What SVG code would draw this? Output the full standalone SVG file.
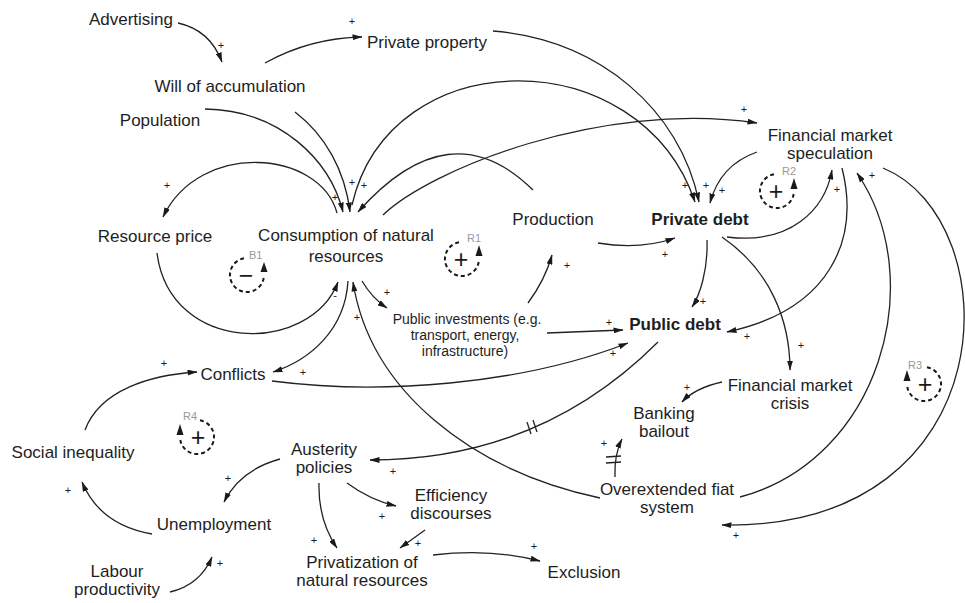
<svg xmlns="http://www.w3.org/2000/svg" width="965" height="603" viewBox="0 0 965 603">
<defs>
<marker id="ah" viewBox="0 0 10 6" refX="9.5" refY="3" markerWidth="10" markerHeight="6" orient="auto" markerUnits="userSpaceOnUse"><path d="M0,0 L10,3 L0,6 z" fill="#1a1a1a"/></marker>
<style>
.n{font-family:"Liberation Sans",Arial,sans-serif;font-size:17px;fill:#1e1e1e;text-anchor:middle}
.b{font-weight:bold}
.s{font-size:14px}
.p{font-family:"Liberation Sans",Arial,sans-serif;font-size:11px;fill:#1e1e1e;text-anchor:middle}
.c path{fill:none;stroke:#222;stroke-width:1.3;marker-end:url(#ah)}
.c line{stroke:#222;stroke-width:1.3}
.lp{fill:none;stroke:#1a1a1a;stroke-width:2;stroke-dasharray:4 3}
.lt{font-family:"Liberation Sans",Arial,sans-serif;font-size:11px;fill:#999}
.ls{font-family:"Liberation Sans",Arial,sans-serif;font-size:25px;fill:#1a1a1a;text-anchor:middle}
</style>
</defs>
<rect width="965" height="603" fill="#fff"/>

<g id="connectors" class="c">
<path d="M178,23 Q210,30 222,62"/>
<path d="M265,63 Q310,38 362,37"/>
<path d="M493,31 C600,40 680,110 699,202"/>
<path d="M352,205 C390,40 640,40 695,202"/>
<path d="M533,190 Q450,108 358,212"/>
<path d="M205,109 C280,110 330,160 343,212"/>
<path d="M295,112 C325,135 345,170 350,212"/>
<path d="M337,213 C320,150 200,140 163,217"/>
<path d="M157,253 C170,355 310,355 338,282"/>
<path d="M383,215 C430,170 600,100 757,123"/>
<path d="M757,152 Q720,165 710,203"/>
<path d="M727,237 C790,245 825,210 832,170"/>
<path d="M842,168 C860,240 830,310 727,332"/>
<path d="M740,497 C880,460 930,280 857,173"/>
<path d="M883,168 C1010,220 1010,530 722,525"/>
<path d="M707,240 C708,270 700,295 692,307"/>
<path d="M722,237 C770,270 790,320 790,370"/>
<path d="M722,382 Q695,388 682,402"/>
<path d="M615,477 Q614,455 622,439"/>
<line x1="606" y1="457" x2="621" y2="456"/>
<line x1="606" y1="463" x2="621" y2="462"/>
<path d="M658,342 Q540,460 370,460"/>
<line x1="527" y1="422" x2="531" y2="434"/>
<line x1="533" y1="420" x2="537" y2="432"/>
<path d="M600,498 C470,470 370,390 353,282"/>
<path d="M362,281 Q372,298 387,308"/>
<path d="M528,303 Q545,280 552,255"/>
<path d="M547,333 L623,330"/>
<path d="M272,381 C380,395 520,385 628,343"/>
<path d="M598,243 Q640,250 675,238"/>
<path d="M348,281 C345,330 310,360 273,372"/>
<path d="M85,430 C100,390 150,375 197,372"/>
<path d="M280,459 Q240,470 224,502"/>
<path d="M319,483 Q318,520 337,548"/>
<path d="M347,483 Q370,500 396,506"/>
<path d="M425,530 L400,548"/>
<path d="M433,555 Q490,548 540,561"/>
<path d="M152,534 Q100,525 82,482"/>
<path d="M170,592 Q200,585 212,557"/>
</g>

<g id="polarities">
<text class="p" x="221" y="49">+</text>
<text class="p" x="352" y="25">+</text>
<text class="p" x="335" y="201">+</text>
<text class="p" x="352" y="186">+</text>
<text class="p" x="364" y="189">+</text>
<text class="p" x="167" y="189">+</text>
<text class="p" x="335" y="299">-</text>
<text class="p" x="744" y="113">+</text>
<text class="p" x="685" y="189">+</text>
<text class="p" x="706" y="189">+</text>
<text class="p" x="722" y="194">+</text>
<text class="p" x="837" y="193">+</text>
<text class="p" x="747" y="340">+</text>
<text class="p" x="872" y="179">+</text>
<text class="p" x="736" y="539">+</text>
<text class="p" x="703" y="305">+</text>
<text class="p" x="801" y="349">+</text>
<text class="p" x="687" y="391">+</text>
<text class="p" x="604" y="447">+</text>
<text class="p" x="393" y="475">+</text>
<text class="p" x="357" y="321">+</text>
<text class="p" x="387" y="296">+</text>
<text class="p" x="567" y="269">+</text>
<text class="p" x="609" y="326">+</text>
<text class="p" x="613" y="357">+</text>
<text class="p" x="665" y="258">+</text>
<text class="p" x="303" y="376">+</text>
<text class="p" x="164" y="367">+</text>
<text class="p" x="228" y="482">+</text>
<text class="p" x="314" y="544">+</text>
<text class="p" x="382" y="520">+</text>
<text class="p" x="418" y="547">+</text>
<text class="p" x="534" y="550">+</text>
<text class="p" x="68" y="494">+</text>
<text class="p" x="220" y="567">+</text>
</g>

<g id="advertising"><text class="n" x="131" y="25">Advertising</text></g>
<g id="will-of-accumulation"><text class="n" x="230" y="92">Will of accumulation</text></g>
<g id="population"><text class="n" x="160" y="126">Population</text></g>
<g id="private-property"><text class="n" x="427" y="48">Private property</text></g>
<g id="financial-market-speculation"><text class="n" x="830" y="141"><tspan x="830">Financial market</tspan><tspan x="830" dy="18">speculation</tspan></text></g>
<g id="resource-price"><text class="n" x="155" y="242">Resource price</text></g>
<g id="consumption"><text class="n" x="346" y="241"><tspan x="346">Consumption of natural</tspan><tspan x="346" dy="21">resources</tspan></text></g>
<g id="production"><text class="n" x="553" y="225">Production</text></g>
<g id="private-debt"><text class="n b" x="700" y="225">Private debt</text></g>
<g id="public-debt"><text class="n b" x="675" y="330">Public debt</text></g>
<g id="public-investments"><text class="n s" x="467" y="324"><tspan x="467">Public investments (e.g.</tspan><tspan x="465" dy="16">transport, energy,</tspan><tspan x="465" dy="16">infrastructure)</tspan></text></g>
<g id="conflicts"><text class="n" x="233" y="380">Conflicts</text></g>
<g id="financial-market-crisis"><text class="n" x="790" y="391"><tspan x="790">Financial market</tspan><tspan x="790" dy="18">crisis</tspan></text></g>
<g id="banking-bailout"><text class="n" x="664" y="419"><tspan x="664">Banking</tspan><tspan x="664" dy="18">bailout</tspan></text></g>
<g id="social-inequality"><text class="n" x="73" y="458">Social inequality</text></g>
<g id="austerity-policies"><text class="n" x="324" y="455"><tspan x="324">Austerity</tspan><tspan x="324" dy="18">policies</tspan></text></g>
<g id="unemployment"><text class="n" x="214" y="530">Unemployment</text></g>
<g id="efficiency-discourses"><text class="n" x="451" y="501"><tspan x="451">Efficiency</tspan><tspan x="451" dy="18">discourses</tspan></text></g>
<g id="privatization"><text class="n" x="362" y="568"><tspan x="362">Privatization of</tspan><tspan x="362" dy="18">natural resources</tspan></text></g>
<g id="exclusion"><text class="n" x="584" y="578">Exclusion</text></g>
<g id="labour-productivity"><text class="n" x="117" y="577"><tspan x="117">Labour</tspan><tspan x="117" dy="18">productivity</tspan></text></g>
<g id="overextended-fiat-system"><text class="n" x="667" y="495"><tspan x="667">Overextended fiat</tspan><tspan x="667" dy="18">system</tspan></text></g>

<g id="loop-B1">
<path class="lp" d="M244,258.3 A17,17 0 1 0 263.7,278"/>
<polygon points="264,262 260.5,272 267.5,272" fill="#1a1a1a"/>
<text class="lt" x="249" y="259">B1</text>
<text class="ls" x="246" y="284">−</text>
</g>
<g id="loop-R1">
<path class="lp" d="M459,242.3 A17,17 0 1 0 478.7,262"/>
<polygon points="479,245 475.5,256 482.5,256" fill="#1a1a1a"/>
<text class="lt" x="467" y="242">R1</text>
<text class="ls" x="461" y="268">+</text>
</g>
<g id="loop-R2">
<path class="lp" d="M774,174.3 A17,17 0 1 0 793.7,194"/>
<polygon points="794,178 790.5,189 797.5,189" fill="#1a1a1a"/>
<text class="lt" x="782" y="175">R2</text>
<text class="ls" x="776" y="200">+</text>
</g>
<g id="loop-R3">
<path class="lp" d="M927,367.3 A17,17 0 1 1 907.3,387"/>
<polygon points="907,370 903.5,381 910.5,381" fill="#1a1a1a"/>
<text class="lt" x="908" y="369">R3</text>
<text class="ls" x="925" y="393">+</text>
</g>
<g id="loop-R4">
<path class="lp" d="M200,420.3 A17,17 0 1 1 180.3,440"/>
<polygon points="180,424 176.5,435 183.5,435" fill="#1a1a1a"/>
<text class="lt" x="183" y="420">R4</text>
<text class="ls" x="198" y="446">+</text>
</g>
</svg>
